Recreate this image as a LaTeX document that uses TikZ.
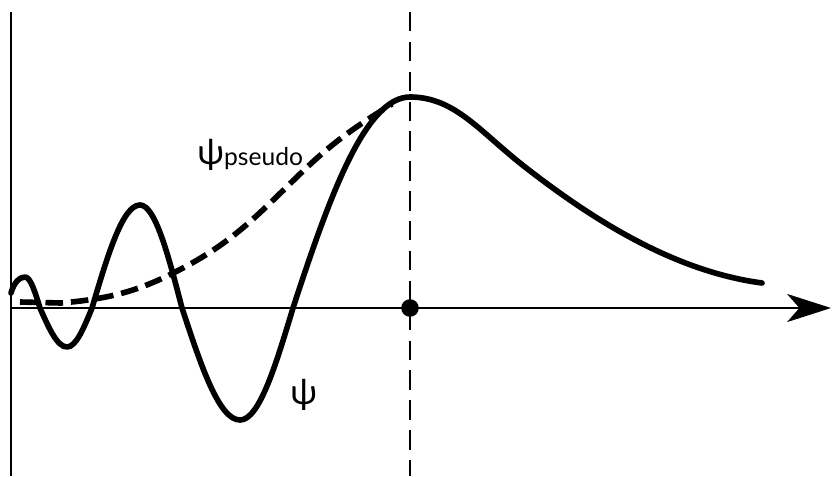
\documentclass[tikz,border=0pt]{standalone}
\usepackage{fontspec}
\newfontfamily\labelfont{Lato}
\usetikzlibrary{arrows.meta}
\tikzset{
  wave/.style={line width=3.2pt,line cap=round,line join=round},
  pseudowave/.style={line width=3.2pt,dash pattern=on 10pt off 4.5pt},
  axisline/.style={line width=1.1pt},
  cutline/.style={line width=1.1pt,dash pattern=on 11pt off 6pt},
  wavelabel/.style={inner sep=0pt,anchor=base west,font=\labelfont\fontsize{20}{22}\selectfont},
}
\begin{document}
\begin{tikzpicture}[x=1cm,y=1cm]
    \useasboundingbox (-0.22,-3.36) rectangle (16.42,6.16);
    \coordinate (o) at (0,0);
    \coordinate (xend) at (16.40,0);
    \coordinate (ytop) at (0,5.92);
    \coordinate (ybot) at (0,-3.36);
    \coordinate (rtop) at (7.98,5.92);
    \coordinate (rbot) at (7.98,-3.36);
    \draw[axisline] (ybot) -- (ytop);
    \draw[axisline,-{Stealth[length=25pt,width=16pt,inset=7pt]}] (o) -- (xend);
    \draw[cutline] (rtop) -- (rbot);
    \node[circle,fill,inner sep=0pt,minimum size=10pt] (rc) at (7.98,0) {};
    \draw[wave] (0,0.3) .. controls +(0.06,0.22) and +(-0.1,0) .. (0.28,0.62)
      .. controls +(0.11,0) and +(-0.10,0.32) .. (0.58,0)
      .. controls +(0.176,-0.40) and +(-0.195,0) .. (1.12,-0.78)
      .. controls +(0.18,0) and +(-0.163,-0.40) .. (1.62,0)
      .. controls +(0.313,1.055) and +(-0.348,0) .. (2.58,2.06)
      .. controls +(0.304,0) and +(-0.274,1.055) .. (3.42,0)
      .. controls +(0.378,-1.147) and +(-0.42,0) .. (4.58,-2.24)
      .. controls +(0.384,0) and +(-0.346,-1.147) .. (5.64,0)
      .. controls +(0.72,2.2) and +(-0.9,0) .. (7.98,4.22)
      .. controls +(0.9,0) and +(-0.9,0.7) .. (10.28,2.82)
      .. controls +(1.3,-1.01) and +(-1.8,0.24) .. (15.02,0.5);
    \draw[pseudowave] (0.18,0.12) -- (1.0,0.1) to[out=5,in=-152] (3.44,0.8)
      to[out=28,in=-136] (5.8,2.7) to[out=44,in=-148] (7.62,4.08);
    \node[wavelabel] (psi) at (5.58,-1.92) {ψ};
    \node[wavelabel] (psipseudo) at (3.72,2.88) {ψ\raisebox{-1pt}{\fontsize{14}{16}\selectfont pseudo}};
\end{tikzpicture}
\end{document}
